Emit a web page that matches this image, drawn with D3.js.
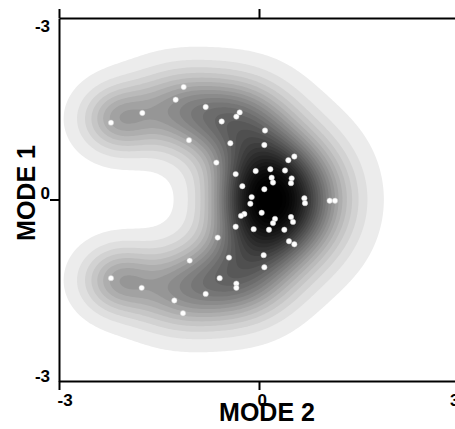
<!DOCTYPE html>
<html>
<head>
<meta charset="utf-8">
<script src="https://cdn.jsdelivr.net/npm/d3@7"></script>
<style>
  body { margin: 0; background: #fff; }
  svg { display: block; }
  text { font-family: "Liberation Sans", Arial, sans-serif; font-weight: bold; }
</style>
</head>
<body>
<svg id="chart" width="455" height="429"></svg>
<script>
// sample points (MODE 2 on x, MODE 1 on y)
const mode2 = [-1.13, -1.25, -1.75, -2.22, -0.80, -0.29, -0.34, -0.56, -1.05, -0.43,
  -0.64, -0.35, -0.05, -0.25, -0.11, -0.13, -0.22, -0.27, -0.35, -0.08,
  -0.62, -0.45, -1.04, -0.59, -2.22, -1.76, -0.34, -0.34, -0.80, -1.27,
  -1.14, 0.09, 0.08, 0.44, 0.53, 0.17, 0.39, 0.19, 0.21, 0.49,
  0.48, 0.08, 0.68, 0.69, 1.06, 1.14, 0.04, 0.24, 0.21, 0.48,
  0.51, 0.15, 0.38, 0.45, 0.53, 0.07, 0.08];
const mode1 = [1.86, 1.65, 1.43, 1.27, 1.53, 1.44, 1.37, 1.29, 0.98, 0.93,
  0.61, 0.42, 0.47, 0.22, 0.04, -0.07, -0.24, -0.27, -0.45, -0.49,
  -0.63, -0.96, -1.01, -1.30, -1.30, -1.46, -1.39, -1.46, -1.56, -1.67,
  -1.88, 1.14, 0.90, 0.65, 0.71, 0.50, 0.48, 0.36, 0.28, 0.35,
  0.27, 0.17, 0.02, -0.06, -0.02, -0.02, -0.22, -0.32, -0.39, -0.29,
  -0.37, -0.50, -0.50, -0.69, -0.74, -0.92, -1.12];

// density components
const blobX  = [0.05, 0.55, -0.40, -1.20, -2.10, -0.40, -1.20, -2.10];
const blobY  = [0.00, 0.00, 1.30, 1.50, 1.33, -1.30, -1.50, -1.33];
const blobSx = [0.47, 0.53, 0.50, 0.50, 0.37, 0.50, 0.50, 0.37];
const blobSy = [0.74, 0.66, 0.47, 0.43, 0.36, 0.47, 0.43, 0.36];
const blobW  = [1.00, 0.55, 0.42, 0.33, 0.30, 0.42, 0.33, 0.30];

const xTicks = [-3, 0, 3];
const xTickLabels = ["-3", "0", "3"];
const yTicks = [-3, 0, 3];
const yTickLabels = ["-3", "0", "-3"];

const svg = d3.select("#chart");
const plotL = 59, plotR = 459, plotT = 18, plotB = 381;

const x = d3.scaleLinear().domain([-3, 3]).range([plotL, plotR]);
const y = d3.scaleLinear().domain([-3, 3]).range([plotB, plotT]);

svg.append("clipPath").attr("id", "plotClip")
  .append("rect")
  .attr("x", plotL).attr("y", plotT)
  .attr("width", plotR - plotL).attr("height", plotB - plotT);

// density grid
const step = 2;
const nx = Math.ceil((plotR - plotL) / step) + 1;
const ny = Math.ceil((plotB - plotT) / step) + 1;
const values = new Float64Array(nx * ny);
for (let j = 0; j < ny; j++) {
  const yv = y.invert(plotT + j * step);
  for (let i = 0; i < nx; i++) {
    const xv = x.invert(plotL + i * step);
    let s = 0;
    for (let k = 0; k < blobX.length; k++) {
      const dx = (xv - blobX[k]) / blobSx[k];
      const dy = (yv - blobY[k]) / blobSy[k];
      s += blobW[k] * Math.exp(-(dx * dx + dy * dy) / 2);
    }
    values[j * nx + i] = s;
  }
}

const maxV = d3.max(values);
const nLevels = 28;
const lo = 0.025;
const thresholds = d3.range(nLevels).map(k => lo + k * (maxV * 0.95 - lo) / (nLevels - 1));

// grey level falls a bit faster than linear
const grey = i => 236 * Math.pow(1 - i / (nLevels - 1), 1.5);

const contours = d3.contours().size([nx, ny]).thresholds(thresholds)(values);

const path = d3.geoPath(d3.geoTransform({
  point: function (px, py) {
    this.stream.point(plotL + (px - 0.5) * step, plotT + (py - 0.5) * step);
  }
}));

svg.append("g")
  .attr("clip-path", "url(#plotClip)")
  .selectAll("path")
  .data(contours)
  .join("path")
  .attr("d", path)
  .attr("fill", (d, i) => { const g = Math.round(grey(i)); return `rgb(${g},${g},${g})`; });

// points
svg.append("g")
  .selectAll("circle")
  .data(mode2)
  .join("circle")
  .attr("cx", d => x(d))
  .attr("cy", (d, i) => y(mode1[i]))
  .attr("r", 2.7)
  .attr("fill", "#fff")
  .attr("stroke", "#c8c8c8")
  .attr("stroke-width", 0.5);

// axes
const bottomAxis = svg.append("g")
  .attr("transform", `translate(0,${plotB})`)
  .call(d3.axisBottom(x).tickValues(xTicks).tickSize(9).tickSizeOuter(0)
    .tickFormat((d, i) => xTickLabels[i]));
bottomAxis.select(".domain").attr("stroke-width", 2);
bottomAxis.selectAll(".tick line").attr("stroke-width", 2);
bottomAxis.selectAll(".tick text")
  .style("font-size", "17px")
  .attr("y", 13).attr("dy", "0.71em")
  .attr("text-anchor", (d, i) => i === 2 ? "end" : "start")
  .attr("x", (d, i) => i === 2 ? 0 : -2);

const topAxis = svg.append("g")
  .attr("transform", `translate(0,${plotT})`)
  .call(d3.axisTop(x).tickValues(xTicks).tickSize(9).tickSizeOuter(0).tickFormat(""));
topAxis.select(".domain").attr("stroke-width", 2);
topAxis.selectAll(".tick line").attr("stroke-width", 2);

const leftAxis = svg.append("g")
  .attr("transform", `translate(${plotL},0)`)
  .call(d3.axisLeft(y).tickValues(yTicks).tickSize(9).tickSizeOuter(0)
    .tickFormat((d, i) => yTickLabels[i]));
leftAxis.select(".domain").attr("stroke-width", 2);
leftAxis.selectAll(".tick line")
  .attr("stroke-width", 2)
  .attr("x2", d => d === 0 ? -9 : 0);
leftAxis.selectAll(".tick text")
  .style("font-size", "17px")
  .attr("x", -9)
  .attr("dy", d => d === 3 ? "0.8em" : d === 0 ? "-0.05em" : "0.05em");

[bottomAxis, topAxis, leftAxis].forEach(a => a.attr("font-size", null).attr("font-family", null));

// axis titles
svg.append("text")
  .attr("x", 267).attr("y", 421)
  .attr("text-anchor", "middle")
  .style("font-size", "25px")
  .text("MODE 2");

svg.append("text")
  .attr("transform", "translate(35,193) rotate(-90)")
  .attr("text-anchor", "middle")
  .style("font-size", "25px")
  .text("MODE 1");
</script>
</body>
</html>
